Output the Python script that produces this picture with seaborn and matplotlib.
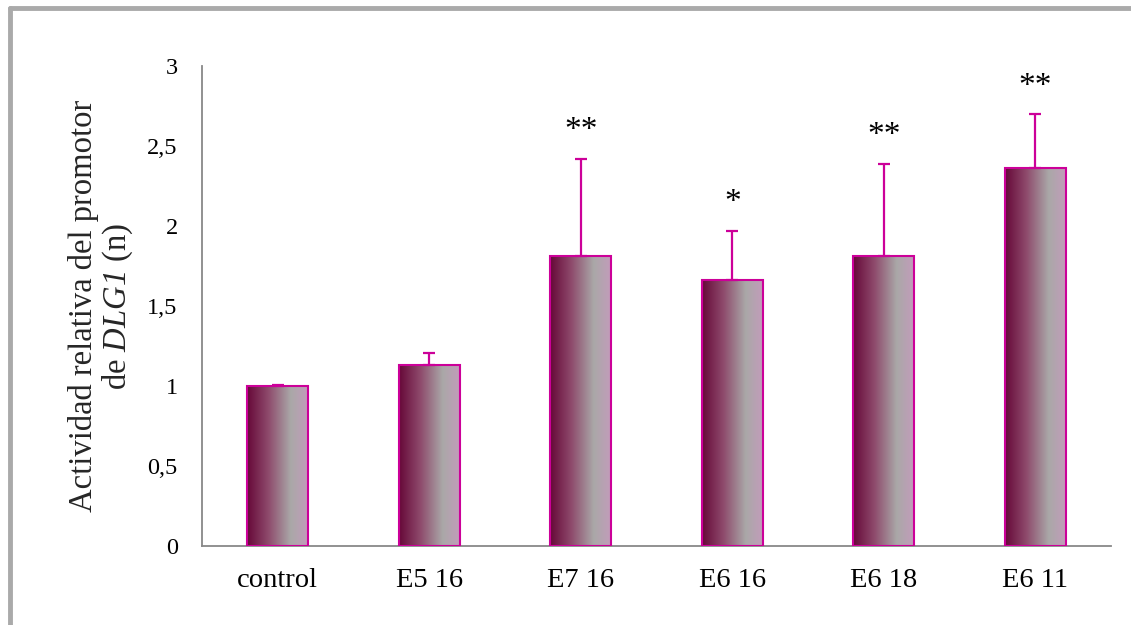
import matplotlib
matplotlib.use("Agg")
import matplotlib.pyplot as plt
import seaborn as sns
import numpy as np
import pandas as pd
from matplotlib.colors import LinearSegmentedColormap
from matplotlib.lines import Line2D

categories = ["control", "E5 16", "E7 16", "E6 16", "E6 18", "E6 11"]
values = [1.00, 1.13, 1.81, 1.66, 1.81, 2.36]
errors = [0.005, 0.075, 0.61, 0.31, 0.58, 0.34]
stars = ["", "", "**", "*", "**", "**"]
yticks = [0, 0.5, 1, 1.5, 2, 2.5, 3]
ytick_labels = ["0", "0,5", "1", "1,5", "2", "2,5", "3"]

sns.set_theme(style="white")
plt.rcParams["font.family"] = ["Liberation Serif", "DejaVu Serif"]
plt.rcParams["mathtext.fontset"] = "custom"
plt.rcParams["mathtext.rm"] = "Liberation Serif:italic"
plt.rcParams["mathtext.it"] = "Liberation Serif:italic"

df = pd.DataFrame({"cat": categories, "val": values})

fig = plt.figure(figsize=(11.31, 6.25), dpi=100)
ax = fig.add_axes([202 / 1131, 1 - 546 / 625, 909 / 1131, 480 / 625])

edge = "#CC0099"
sns.barplot(data=df, x="cat", y="val", ax=ax, width=0.4, color="white",
            edgecolor=edge, linewidth=1.5, errorbar=None, zorder=3)

cmap = LinearSegmentedColormap.from_list(
    "grad", [(0.0, "#660838"), (0.35, "#8e4a6c"), (0.72, "#aaa8a8"), (1.0, "#c29cba"), ])
grad = np.linspace(0, 1, 256).reshape(1, -1)
for p in ax.patches:
    x0, y0 = p.get_x(), p.get_y()
    w, h = p.get_width(), p.get_height()
    p.set_facecolor("none")
    im = ax.imshow(grad, cmap=cmap, extent=[x0, x0 + w, y0, y0 + h],
                   aspect="auto", zorder=2, interpolation="bicubic")
    im.set_clip_path(p)

xs = np.arange(len(categories))
ax.errorbar(xs, values, yerr=[np.zeros(len(errors)), errors], fmt="none",
            ecolor=edge, elinewidth=1.6, capsize=4.5, capthick=1.6, zorder=4)

for x, v, e, s in zip(xs, values, errors, stars):
    if s:
        ax.annotate(s, (x, v + e), xytext=(0, 9), textcoords="offset points",
                    ha="center", va="bottom", fontsize=24, color="black")

ax.set_xlim(-0.5, len(categories) - 0.5)
ax.set_ylim(0, 3)
ax.set_yticks(yticks)
ax.set_yticklabels(ytick_labels, fontsize=17.5)
ax.set_xticks(xs)
ax.set_xticklabels(categories, fontsize=20.5)
ax.set_xticks(np.arange(-0.5, len(categories), 1.0), minor=True)
ax.tick_params(axis="x", which="major", length=0, pad=16)
ax.tick_params(axis="x", which="minor", length=5, width=1.2, color="#888888", direction="out")
ax.tick_params(axis="y", which="major", length=5, width=1.2, color="#888888", direction="out", pad=12.5)
ax.tick_params(axis="both", labelcolor="black")

ax.set_xlabel("")
ax.set_ylabel("Actividad relativa del promotor\nde $DLG1$ (n)", fontsize=23.5, linespacing=1.05)
ax.yaxis.set_label_coords(-0.0735, 0.5)

sns.despine(ax=ax)
for sp in ["left", "bottom"]:
    ax.spines[sp].set_color("#888888")
    ax.spines[sp].set_linewidth(1.3)

# outer frame (top and left visible)
fig.add_artist(Line2D([10 / 1131, 1.0], [1 - 7.5 / 625, 1 - 7.5 / 625], color="#aaaaaa", linewidth=3.5))
fig.add_artist(Line2D([10 / 1131, 10 / 1131], [0.0, 1 - 7.5 / 625], color="#aaaaaa", linewidth=3.5))

fig.savefig("out.png", dpi=100)
